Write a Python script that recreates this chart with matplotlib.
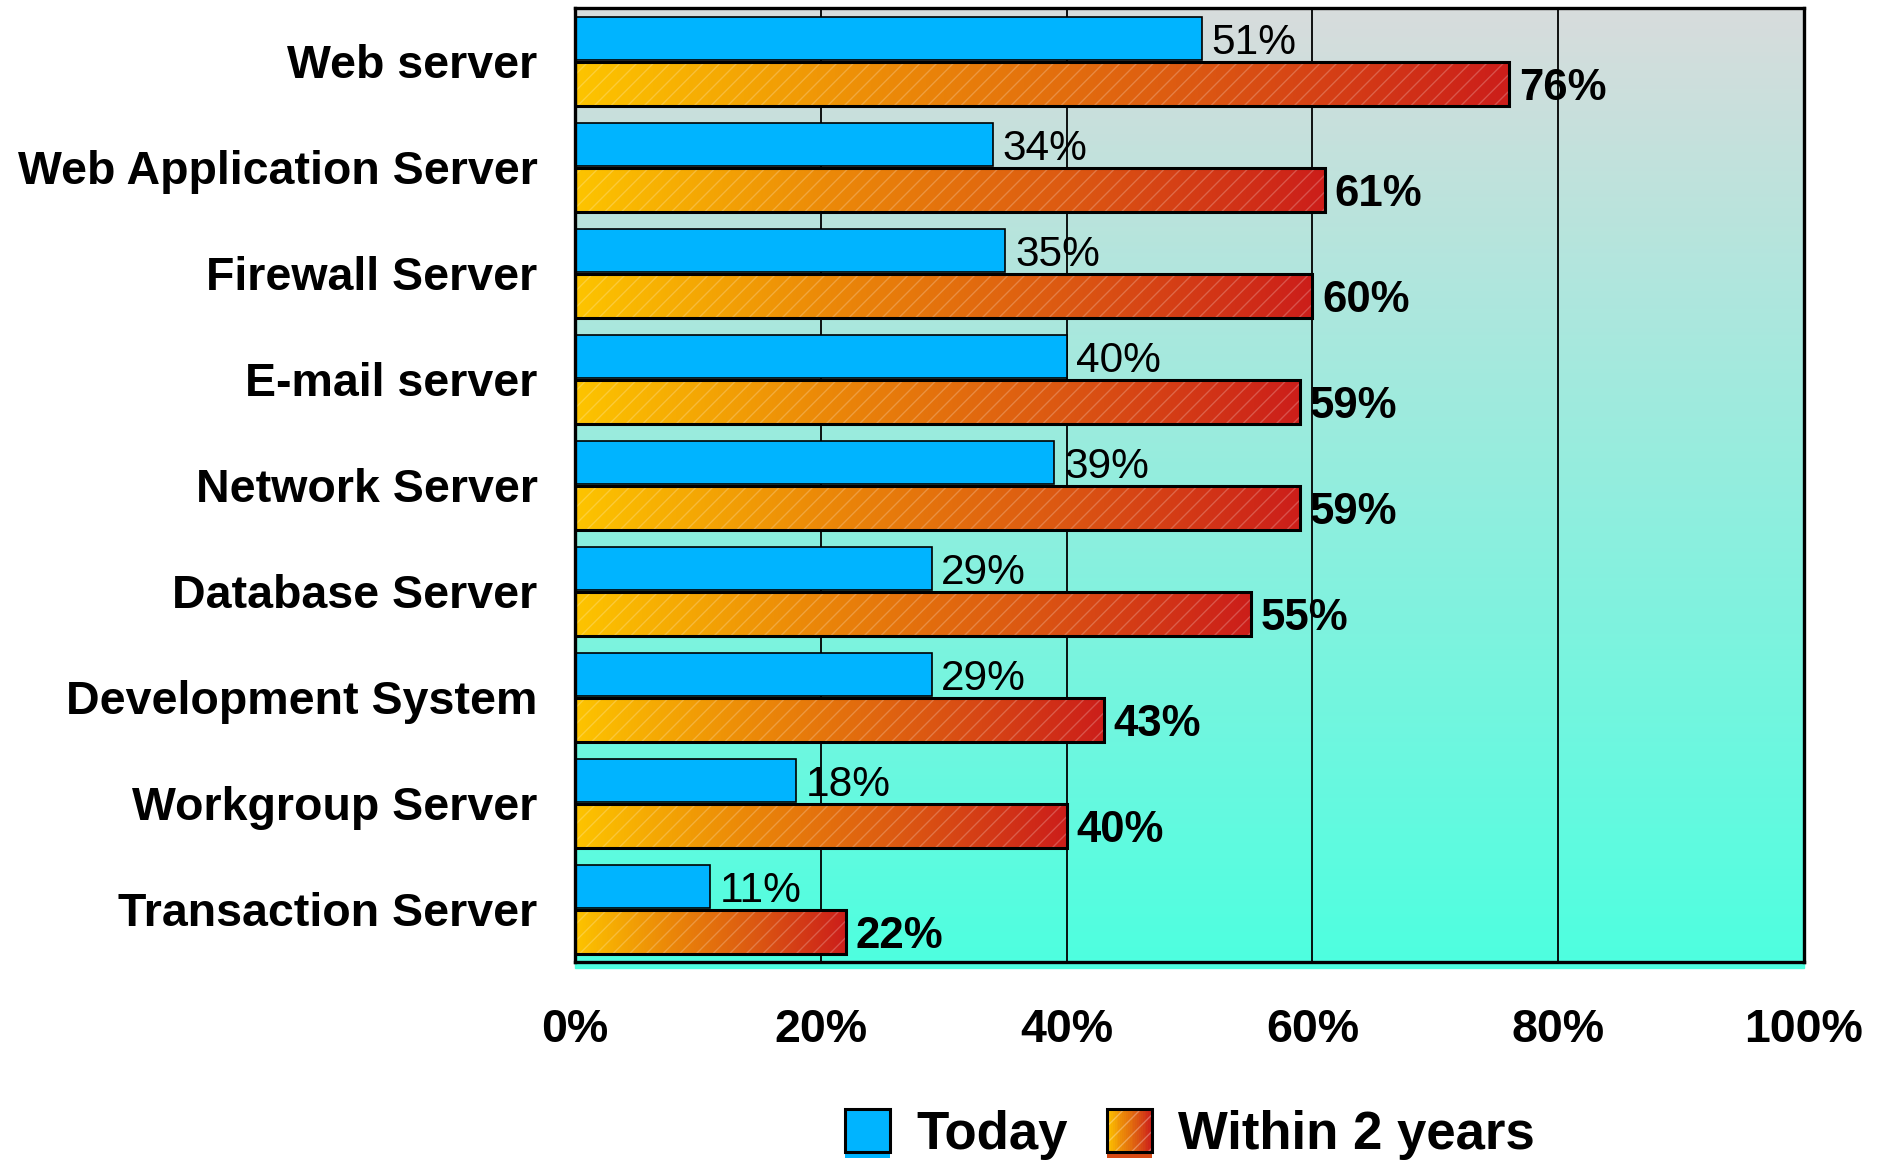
import numpy as np
import matplotlib
matplotlib.use('Agg')
import matplotlib.pyplot as plt
from matplotlib.colors import LinearSegmentedColormap
from matplotlib.patches import Rectangle, Patch
from matplotlib.legend_handler import HandlerBase

categories = ["Web server", "Web Application Server", "Firewall Server", "E-mail server",
              "Network Server", "Database Server", "Development System", "Workgroup Server",
              "Transaction Server"]
today = [51, 34, 35, 40, 39, 29, 29, 18, 11]
within_2_years = [76, 61, 60, 59, 59, 55, 43, 40, 22]
x_ticks = [0, 20, 40, 60, 80, 100]
x_tick_labels = ["0%", "20%", "40%", "60%", "80%", "100%"]
series_names = ["Today", "Within 2 years"]

plt.rcParams['font.family'] = ['Liberation Sans', 'DejaVu Sans']
plt.rcParams['hatch.linewidth'] = 1.0

BLUE = '#00B4FF'
orange_cmap = LinearSegmentedColormap.from_list('org', ['#FDC400', '#EC8A08', '#DC5812', '#CC1E1A'])
bg_cmap = LinearSegmentedColormap.from_list('bg', ['#4EFFE0', '#D8DCDC'])

fig = plt.figure(figsize=(18.92, 11.62), dpi=100)
ax = fig.add_axes([0.304, 0.172, 0.6495, 0.821])
n = len(categories)
y = np.arange(n)
h = 0.41
off = 0.215

# background gradient
ax.imshow(np.linspace(0, 1, 256).reshape(-1, 1), extent=(0, 1, 0, 1), transform=ax.transAxes,
          origin='lower', cmap=bg_cmap, aspect='auto', zorder=0)
ax.add_patch(Rectangle((0, -0.006), 1, 0.006, transform=ax.transAxes, color='#4EFFE0',
                       clip_on=False, zorder=0))

# gridlines
for xv in x_ticks[1:-1]:
    ax.axvline(xv, color='black', linewidth=1.3, zorder=1)

# Today bars
ax.barh(y - off, today, height=h, color=BLUE, edgecolor='black', linewidth=1.2, zorder=3)

# Within 2 years bars with gradient
grad = np.linspace(0, 1, 256).reshape(1, -1)
for yi, v in zip(y, within_2_years):
    yc = yi + off
    ax.imshow(grad, extent=(0, v, yc + h / 2, yc - h / 2), cmap=orange_cmap, aspect='auto',
              origin='upper', zorder=3, interpolation='bilinear')
ax.barh(y + off, within_2_years, height=h, facecolor='none', edgecolor=(1, 1, 1, 0.22),
        hatch='//', linewidth=0, zorder=4)
ax.barh(y + off, within_2_years, height=h, fill=False, edgecolor='black', linewidth=2.2, zorder=5)

# value labels
for yi, v in zip(y, today):
    ax.annotate(f"{v}%", xy=(v, yi - off), xytext=(7, 0), textcoords='offset points',
                ha='left', va='center_baseline', fontsize=30.5, zorder=6)
for yi, v in zip(y, within_2_years):
    ax.annotate(f"{v}%", xy=(v, yi + off), xytext=(7, 0), textcoords='offset points',
                ha='left', va='center_baseline', fontsize=31.5, fontweight='bold', zorder=6)

ax.set_xlim(0, 100)
ax.set_ylim(n - 0.5, -0.5)
ax.set_xticks(x_ticks, x_tick_labels, fontsize=33.5, fontweight='bold')
ax.set_yticks(y, categories, fontsize=33.5, fontweight='bold')
ax.tick_params(axis='x', length=0, pad=33)
ax.tick_params(axis='y', length=0, pad=27)
for s in ax.spines.values():
    s.set_linewidth(2.4)
    s.set_color('black')
    s.set_zorder(7)


class GradientHandler(HandlerBase):
    def create_artists(self, legend, orig_handle, xdescent, ydescent, width, height, fontsize, trans):
        arts = []
        x0, y0 = -xdescent, -ydescent
        arts.append(Rectangle((x0, y0 - height * 0.12), width, height, facecolor='#D84A14',
                              edgecolor='none', transform=trans))
        ns = 24
        for i in range(ns):
            c = orange_cmap((i + 0.5) / ns)
            arts.append(Rectangle((x0 + width * i / ns, y0), width / ns + 0.5, height,
                                  facecolor=c, edgecolor='none', transform=trans))
        arts.append(Rectangle((x0, y0), width, height, facecolor='none', edgecolor=(1, 1, 1, 0.3),
                              hatch='//', linewidth=0, transform=trans))
        arts.append(Rectangle((x0, y0), width, height, fill=False, edgecolor='black',
                              linewidth=2.2, transform=trans))
        return arts


class BlueHandler(HandlerBase):
    def create_artists(self, legend, orig_handle, xdescent, ydescent, width, height, fontsize, trans):
        x0, y0 = -xdescent, -ydescent
        return [Rectangle((x0, y0 - height * 0.12), width, height, facecolor=BLUE,
                          edgecolor='none', transform=trans),
                Rectangle((x0, y0), width, height, facecolor=BLUE, edgecolor='black',
                          linewidth=2.2, transform=trans)]


h1 = Patch(facecolor=BLUE)
h2 = Patch(facecolor='#E07010')
fig.legend([h1, h2], series_names, loc='center', bbox_to_anchor=(0.629, 0.024), ncol=2,
           frameon=False, prop={'size': 38, 'weight': 'bold'}, handlelength=0.85,
           handleheight=0.9, handletextpad=0.5, columnspacing=0.75,
           handler_map={h1: BlueHandler(), h2: GradientHandler()})

fig.savefig('out.png', dpi=100)
